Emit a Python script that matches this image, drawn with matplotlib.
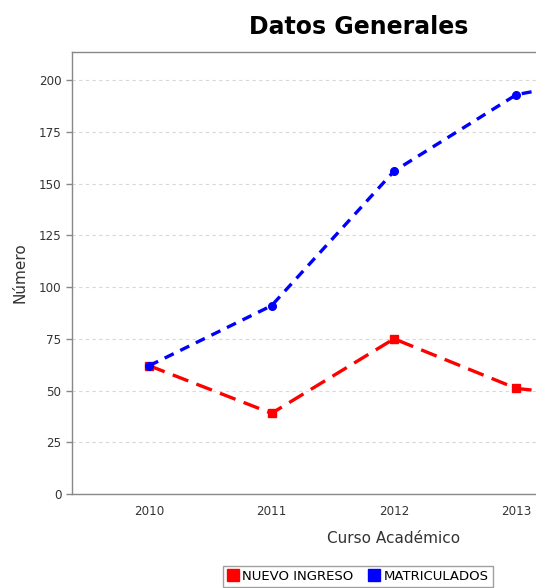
import matplotlib
matplotlib.use("Agg")
import matplotlib.pyplot as plt
from matplotlib.lines import Line2D

categories = ["2010", "2011", "2012", "2013", "2014"]
nuevo_ingreso = [62, 39, 75, 51, 45]
matriculados = [62, 91, 156, 193, 204]
series_names = ["NUEVO INGRESO", "MATRICULADOS"]
yticks = [0, 25, 50, 75, 100, 125, 150, 175, 200]
visible_categories = 4  # the reference image is cropped after 2013

W, H = 536, 588
fig = plt.figure(figsize=(W / 100, H / 100), dpi=100)

# full (uncropped) chart is ~718 px wide; axes extends past the right edge
ax_left, ax_right, ax_top, ax_bottom = 72, 716, 52, 494
ax = fig.add_axes([ax_left / W, (H - ax_bottom) / H,
                   (ax_right - ax_left) / W, (ax_bottom - ax_top) / H])

x = list(range(len(categories)))
ax.plot(x, nuevo_ingreso, color="#ff0000", lw=2.4, linestyle=(0, (5, 2.6)),
        marker="s", markersize=5.5, zorder=3)
ax.plot(x, matriculados, color="#0000ff", lw=2.4, linestyle=(0, (3, 2.2)),
        marker="o", markersize=5.5, zorder=4)

ax.set_xlim(-0.63, 4.63)
ax.set_ylim(0, 213.6)
ax.set_xticks(x[:visible_categories])
ax.set_xticklabels(categories[:visible_categories])
ax.set_yticks(yticks)
ax.yaxis.grid(True, color="#d8d8d8", linestyle=(0, (3, 3)), lw=0.8)
ax.set_axisbelow(True)
for s in ax.spines.values():
    s.set_color("#888888")
    s.set_linewidth(1.0)
ax.tick_params(axis="both", colors="#888888", labelcolor="#333333",
               labelsize=8.6, length=4, width=1)
ax.tick_params(axis="x", length=0, pad=8)

ax.set_ylabel("Número", fontsize=11, color="#333333", labelpad=8)
ax.set_xlabel("Curso Académico", fontsize=11, color="#333333", labelpad=9)

fig.text(359 / W, 1 - 27 / H, "Datos Generales", ha="center", va="center",
         fontsize=17, fontweight="bold", color="#000000")

handles = [Line2D([], [], color="#ff0000", marker="s", linestyle="none", markersize=9),
           Line2D([], [], color="#0000ff", marker="s", linestyle="none", markersize=9)]
leg = fig.legend(handles, series_names, loc="upper center",
                 bbox_to_anchor=(358 / W, 1 - 566 / H), ncol=2, fontsize=9.5,
                 frameon=True, fancybox=False, edgecolor="#888888",
                 handlelength=0.8, handletextpad=0.3, columnspacing=1.2,
                 borderpad=0.3, borderaxespad=0)
leg.get_frame().set_linewidth(1.0)

fig.savefig("out.png", dpi=100)
